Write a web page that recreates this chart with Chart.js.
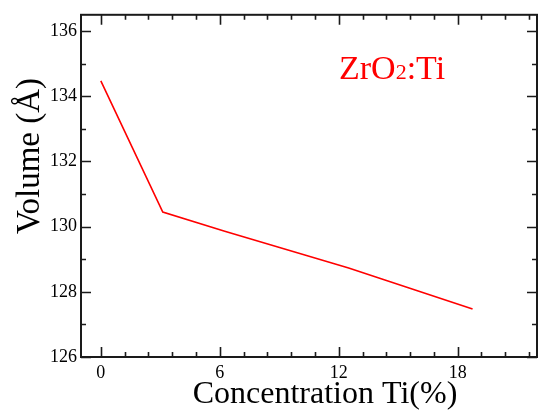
<!DOCTYPE html>
<html>
<head>
<meta charset="utf-8">
<script src="https://cdn.jsdelivr.net/npm/chart.js@4/dist/chart.umd.min.js"></script>
<style>
  html, body { margin: 0; padding: 0; background: #fff; overflow: hidden; }
  #wrap { width: 538px; height: 410px; }
</style>
</head>
<body>
<div id="wrap"><canvas id="c" width="538" height="410"></canvas></div>
<script>
// ---- data ----
const concentration = [0, 3.125, 6.25, 12.5, 18.75];          // Ti (%)
const volume = [134.47, 130.45, 129.86, 128.73, 127.47];      // Å^3
const xTickLabels = ['0', '6', '12', '18'];
const yTickLabels = ['126', '128', '130', '132', '134', '136'];
const seriesLabel = ['ZrO', '2', ':Ti'];
const xTitle = 'Concentration Ti(%)';
const yTitle = 'Volume (Å)';

const FONT = '"Liberation Serif", "Times New Roman", serif';
const AXIS = '#1a1a1a';

const framePlugin = {
  id: 'frame',
  afterDraw(chart) {
    const ctx = chart.ctx;
    const a = chart.chartArea;
    const xs = chart.scales.x, ys = chart.scales.y;
    ctx.save();
    ctx.strokeStyle = AXIS;
    ctx.lineWidth = 2;
    ctx.strokeRect(a.left, a.top, a.right - a.left, a.bottom - a.top);
    // x ticks (top & bottom, inward): major every 6, 4 minors between
    ctx.lineWidth = 1.6;
    for (let i = 0; ; i++) {
      const v = i * 1.2;
      if (v > xs.max) break;
      const px = Math.round(xs.getPixelForValue(v)) + 0.5;
      const len = (i % 5 === 0) ? 10 : 5;
      ctx.beginPath();
      ctx.moveTo(px, a.bottom); ctx.lineTo(px, a.bottom - len);
      ctx.moveTo(px, a.top); ctx.lineTo(px, a.top + len);
      ctx.stroke();
    }
    // y ticks (left & right, inward): major every 2, minor every 1
    for (let v = ys.min; v <= ys.max; v += 1) {
      const py = Math.round(ys.getPixelForValue(v)) + 0.5;
      const len = (v % 2 === 0) ? 10 : 5;
      ctx.beginPath();
      ctx.moveTo(a.left, py); ctx.lineTo(a.left + len, py);
      ctx.moveTo(a.right, py); ctx.lineTo(a.right - len, py);
      ctx.stroke();
    }
    // axis titles
    ctx.fillStyle = '#000';
    ctx.font = '32px ' + FONT;
    ctx.textAlign = 'center';
    ctx.textBaseline = 'alphabetic';
    ctx.fillText(xTitle, (a.left + a.right) / 2 + 16, 403);
    ctx.save();
    ctx.translate(39, 156);
    ctx.rotate(-Math.PI / 2);
    ctx.font = '33px ' + FONT;
    ctx.fillText(yTitle, 0, 0);
    ctx.restore();
    // series annotation
    ctx.fillStyle = '#ff0000';
    ctx.textAlign = 'left';
    let x = 339;
    const base = 79;
    ctx.font = '34px ' + FONT;
    ctx.fillText(seriesLabel[0], x, base);
    x += ctx.measureText(seriesLabel[0]).width;
    ctx.font = '22px ' + FONT;
    ctx.fillText(seriesLabel[1], x, base);
    x += ctx.measureText(seriesLabel[1]).width;
    ctx.font = '34px ' + FONT;
    ctx.fillText(seriesLabel[2], x, base);
    ctx.restore();
  }
};

new Chart(document.getElementById('c'), {
  type: 'line',
  data: {
    datasets: [{
      label: 'ZrO2:Ti',
      data: concentration.map((c, i) => ({ x: c, y: volume[i] })),
      borderColor: '#ff0000',
      borderWidth: 1.6,
      pointRadius: 0,
      tension: 0,
      fill: false
    }]
  },
  options: {
    responsive: false,
    animation: false,
    devicePixelRatio: 1,
    layout: { padding: { left: 0, top: 14, right: 1, bottom: 0 } },
    plugins: { legend: { display: false }, tooltip: { enabled: false } },
    scales: {
      x: {
        type: 'linear',
        min: -1, max: 22,
        grid: { display: false, drawTicks: false },
        border: { display: false },
        afterFit(s) { s.height = 53; },
        afterBuildTicks(s) { s.ticks = xTickLabels.map(t => ({ value: Number(t) })); },
        ticks: {
          padding: 5,
          color: '#000',
          font: { family: FONT, size: 18 },
          maxRotation: 0,
          callback: (v) => xTickLabels.includes(String(v)) ? String(v) : ''
        }
      },
      y: {
        type: 'linear',
        min: 126, max: 136.5,
        grid: { display: false, drawTicks: false },
        border: { display: false },
        afterFit(s) { s.width = 81; },
        afterBuildTicks(s) { s.ticks = yTickLabels.map(t => ({ value: Number(t) })); },
        ticks: {
          padding: 4,
          color: '#000',
          font: { family: FONT, size: 18 },
          callback: (v) => yTickLabels.includes(String(v)) ? String(v) : ''
        }
      }
    }
  },
  plugins: [framePlugin]
});
</script>
</body>
</html>
